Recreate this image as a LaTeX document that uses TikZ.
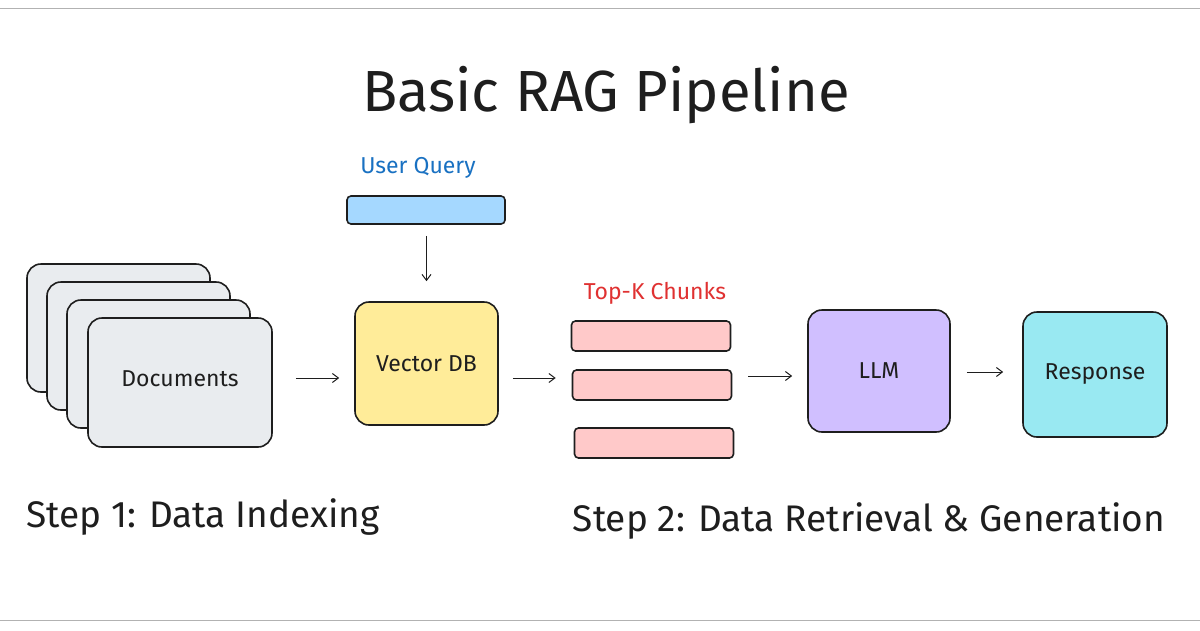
\documentclass[tikz,border=0pt]{standalone}
\usepackage{fontspec}
\setmainfont{Fira Sans}
\usetikzlibrary{arrows.meta}
\definecolor{ink}{HTML}{1e1e1e}
\begin{document}
\begin{tikzpicture}[x=1pt,y=-1pt,
  box/.style={draw=ink,line width=1.6pt,rounded corners=14pt},
  bar/.style={draw=ink,line width=1.6pt,rounded corners=4pt},
  arr/.style={draw=ink,line width=1pt,-{Straight Barb[length=6pt,width=9pt]}},
  lbl/.style={font=\fontsize{23}{26}\selectfont,text=ink}]
\useasboundingbox (0,0) rectangle (1200,630);
\fill[white] (0,0) rectangle (1200,630);
\draw[gray!60,line width=0.8pt] (0,8) -- (1200,8);
\draw[gray!60,line width=0.8pt] (0,620) -- (1200,620);
\node[font=\fontsize{58}{62}\selectfont,text=ink] (title) at (606,95) {Basic RAG Pipeline};
\node[font=\fontsize{23}{26}\selectfont,text={rgb,255:red,25;green,113;blue,194}] (uq) at (418,168) {User Query};
\node[bar,fill={rgb,255:red,165;green,216;blue,255},minimum width=158pt,minimum height=28pt] (qbar) at (426,210) {};
\node[box,fill={rgb,255:red,255;green,236;blue,153},minimum width=143pt,minimum height=123pt] (vdb) at (426.5,363.5) {};
\node[lbl] at (vdb) {Vector DB};
\draw[arr,shorten <=11pt,shorten >=20pt] (qbar.south -| vdb.north) -- (vdb.north);
\foreach \i/\x/\y in {0/27/264,1/47/282,2/67/300}{
  \draw[box,fill={rgb,255:red,233;green,236;blue,239}] (\x,\y) rectangle ++(183,128);}
\node[box,fill={rgb,255:red,233;green,236;blue,239},minimum width=184pt,minimum height=129pt] (docs) at (180,382.5) {};
\node[lbl] at ([yshift=4pt]docs) {Documents};
\coordinate (ya) at (0,378);
\draw[arr,shorten <=23pt,shorten >=15pt] (docs.east |- ya) -- (vdb.west |- ya);
\node[font=\fontsize{23}{26}\selectfont,text={rgb,255:red,224;green,49;blue,49}] (topk) at (655,293) {Top-K Chunks};
\tikzset{chunk/.style={bar,fill={rgb,255:red,255;green,201;blue,201},minimum width=159pt,minimum height=30pt}}
\node[chunk] (c1) at (651,336) {};
\node[chunk] (c2) at (652,385) {};
\node[chunk] (c3) at (654,443) {};
\draw[arr,shorten <=14pt,shorten >=16pt] (vdb.east |- ya) -- (c2.west |- ya);
\node[box,fill={rgb,255:red,208;green,191;blue,255},minimum width=142pt,minimum height=122pt] (llm) at (879,371) {};
\node[lbl] at (llm) {LLM};
\coordinate (yb) at (0,376);
\draw[arr,shorten <=16pt,shorten >=15pt] (c2.east |- yb) -- (llm.west |- yb);
\node[box,fill={rgb,255:red,153;green,233;blue,242},minimum width=144pt,minimum height=125pt] (resp) at (1095,374.5) {};
\node[lbl] at (resp) {Response};
\coordinate (yc) at (0,372);
\draw[arr,shorten <=16pt,shorten >=19pt] (llm.east |- yc) -- (resp.west |- yc);
\node[font=\fontsize{37}{40}\selectfont,text=ink] (s1) at (203,517) {Step 1: Data Indexing};
\node[font=\fontsize{37}{40}\selectfont,text=ink] (s2) at (869,521) {Step 2: Data Retrieval \& Generation};
\end{tikzpicture}
\end{document}
